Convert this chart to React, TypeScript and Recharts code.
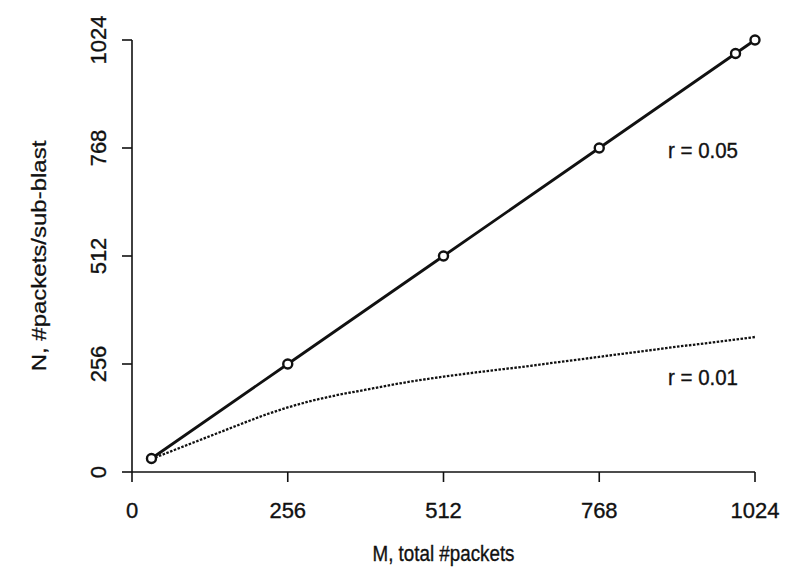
import { LineChart, Line, XAxis, YAxis, ReferenceDot } from 'recharts'

// r = 0.05: sampled points (drawn with circles)
const solidM = [32, 256, 512, 768, 992, 1024]
const solidN = [32, 256, 512, 768, 992, 1024]

// r = 0.01: dotted curve
const dottedM = [32, 64, 96, 128, 160, 192, 224, 256, 288, 320, 384, 448, 512, 576, 640, 704, 768, 832, 896, 960, 1024]
const dottedN = [31, 49, 67, 85, 103, 121, 138, 153, 166, 177, 195, 212, 226, 238, 249, 261, 273, 285, 297, 308, 320]

const ticks = [0, 256, 512, 768, 1024]

const notes = [
  { m: 881, n: 763, text: 'r = 0.05' },
  { m: 881, n: 223, text: 'r = 0.01' },
]

const solidData = solidM.map((m, i) => ({ m, n: solidN[i] }))
const dottedData = dottedM.map((m, i) => ({ m, n: dottedN[i] }))

const FONT = '"Liberation Sans", Arial, Helvetica, sans-serif'
const INK = '#111'
const textInk = { fill: INK, stroke: INK, strokeWidth: 0.35 }

function YTick({ x, y, payload }: any) {
  return (
    <text
      x={x}
      y={y}
      transform={`rotate(-90 ${x} ${y})`}
      textAnchor="middle"
      dominantBaseline="central"
      fontFamily={FONT}
      fontSize={22}
      {...textInk}
    >
      {payload.value}
    </text>
  )
}

function XTick({ x, y, payload }: any) {
  return (
    <text x={x} y={y} textAnchor="middle" dominantBaseline="central" fontFamily={FONT} fontSize={22} {...textInk}>
      {payload.value}
    </text>
  )
}

export default function App() {
  return (
    <div style={{ position: 'absolute', left: 0, top: 0, background: '#fff' }}>
      <LineChart width={786} height={578} margin={{ top: 40, right: 31, bottom: 0, left: 0 }}>
        <XAxis
          type="number"
          dataKey="m"
          domain={[0, 1024]}
          ticks={ticks}
          allowDuplicatedCategory={false}
          height={106}
          tickSize={10}
          tickMargin={28}
          stroke={INK}
          strokeWidth={1.6}
          tick={<XTick />}
          label={{
            content: ({ viewBox }: any) => (
              <text
                x={viewBox.x + viewBox.width / 2}
                y={viewBox.y + 81}
                textAnchor="middle"
                dominantBaseline="central"
                fontFamily={FONT}
                fontSize={22}
                textLength={142}
                lengthAdjust="spacingAndGlyphs"
                {...textInk}
              >
                M, total #packets
              </text>
            ),
          }}
        />
        <YAxis
          type="number"
          dataKey="n"
          domain={[0, 1024]}
          ticks={ticks}
          width={132}
          tickSize={10}
          tickMargin={24}
          stroke={INK}
          strokeWidth={1.6}
          tick={<YTick />}
          label={{
            content: ({ viewBox }: any) => {
              const cx = viewBox.x + 39
              const cy = viewBox.y + viewBox.height / 2
              return (
                <text
                  x={0}
                  y={0}
                  transform={`translate(${cx} ${cy}) rotate(-90) scale(1 0.85)`}
                  textAnchor="middle"
                  dominantBaseline="central"
                  fontFamily={FONT}
                  fontSize={24}
                  fill={INK}
                  stroke={INK}
                  strokeWidth={0.3}
                >
                  N, #packets/sub-blast
                </text>
              )
            },
          }}
        />
        <Line
          data={dottedData}
          dataKey="n"
          type="monotone"
          stroke={INK}
          strokeWidth={2.3}
          strokeDasharray="2.5 1.5"
          dot={false}
          activeDot={false}
          isAnimationActive={false}
        />
        <Line
          data={solidData}
          dataKey="n"
          type="linear"
          stroke={INK}
          strokeWidth={2.8}
          dot={{ r: 4.5, stroke: INK, strokeWidth: 2.4, fill: '#fff' }}
          activeDot={false}
          isAnimationActive={false}
        />
        {notes.map((d) => (
          <ReferenceDot
            key={d.text}
            x={d.m}
            y={d.n}
            r={0}
            stroke="none"
            label={{
              content: ({ viewBox }: any) => (
                <text
                  x={viewBox.x}
                  y={viewBox.y}
                  textAnchor="start"
                  dominantBaseline="central"
                  fontFamily={FONT}
                  fontSize={22}
                  textLength={70}
                  lengthAdjust="spacingAndGlyphs"
                  {...textInk}
                >
                  {d.text}
                </text>
              ),
            }}
          />
        ))}
      </LineChart>
    </div>
  )
}
